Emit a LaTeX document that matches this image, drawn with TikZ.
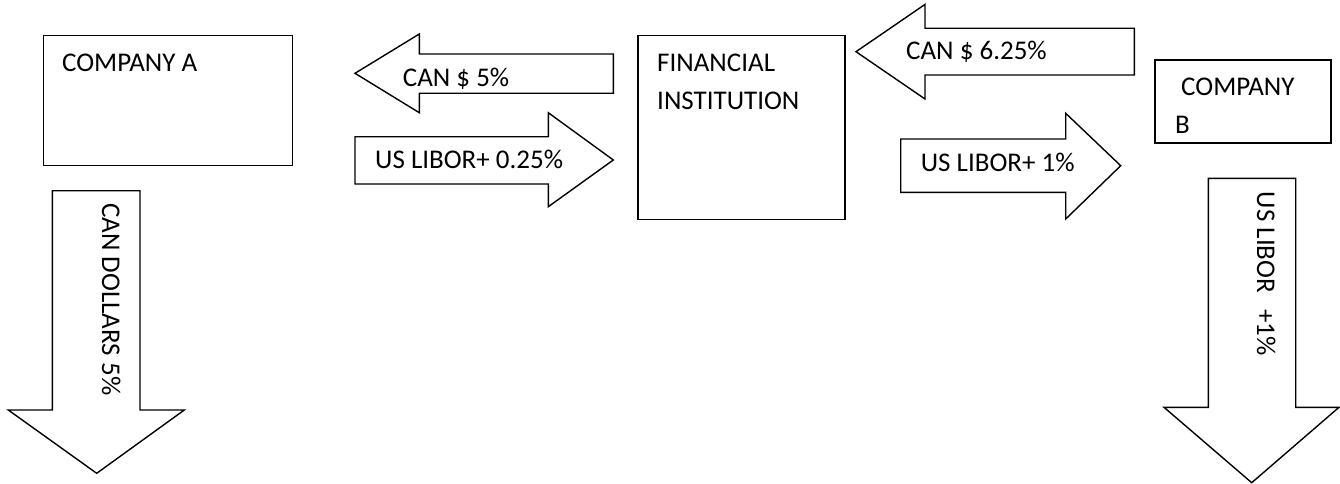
\documentclass[tikz,border=0pt]{standalone}
\usepackage{fontspec}
\setmainfont{Carlito}
\begin{document}
\begin{tikzpicture}[x=1pt,y=-1pt,
  box/.style={draw=black,line width=1.4pt,fill=white,inner sep=0pt,anchor=north west},
  blockarrow/.style={draw=black,line width=1.4pt,fill=white,line join=miter},
  lbl/.style={inner sep=0pt,anchor=base west,font=\fontsize{27}{32}\selectfont},
  vlbl/.style={inner sep=0pt,anchor=base west,rotate=-90,font=\fontsize{27}{32}\selectfont}]
\useasboundingbox (0,0) rectangle (1340,484);

% boxes
\node[box,minimum width=249pt,minimum height=130pt] (compA) at (43,35) {};
\node[box,minimum width=207pt,minimum height=184pt] (fin) at (637.3,34.7) {};
\node[box,minimum width=176pt,minimum height=83pt] (compB) at (1154.3,59.3) {};

\node[lbl] (tA) at (62,71.5) {COMPANY A};
\node[lbl] (tF1) at (657,71.7) {FINANCIAL};
\node[lbl] (tF2) at (657,110) {INSTITUTION};
\node[lbl] (tB1) at (1181,96) {COMPANY};
\node[lbl] (tB2) at (1175,133.3) {B};

% CAN $ 5% (left)
\draw[blockarrow] (355,73.3) -- (419.3,34) -- (419.3,54) -- (613.3,54) -- (613.3,93.3) -- (419.3,93.3) -- (419.3,112.7) -- cycle;
\node[lbl] (t1) at (402.7,86.7) {CAN \$ 5\%};

% US LIBOR+ 0.25% (right)
\draw[blockarrow] (355,136.7) -- (548.3,136.7) -- (548.3,112.7) -- (613.3,160) -- (548.3,206.7) -- (548.3,184) -- (355,184) -- cycle;
\node[lbl] (t2) at (375,168.3) {US LIBOR+ 0.25\%};

% CAN $ 6.25% (left)
\draw[blockarrow] (856,51.7) -- (925,4.4) -- (925,28.3) -- (1134.3,28.3) -- (1134.3,75) -- (925,75) -- (925,99) -- cycle;
\node[lbl] (t3) at (906,60) {CAN \$ 6.25\%};

% US LIBOR+ 1% (right)
\draw[blockarrow] (900.7,139) -- (1065.7,139) -- (1065.7,113.3) -- (1120.7,165.7) -- (1065.7,219) -- (1065.7,192.3) -- (900.7,192.3) -- cycle;
\node[lbl] (t4) at (920.7,171.7) {US LIBOR+ 1\%};

% CAN DOLLARS 5% (down)
\draw[blockarrow] (52.3,190.7) -- (140,190.7) -- (140,410) -- (184.3,410) -- (96.7,473.3) -- (8.3,410) -- (52.3,410) -- cycle;
\node[vlbl] (t5) at (102,203) {CAN DOLLARS 5\%};

% US LIBOR +1% (down)
\draw[blockarrow] (1208.3,178.3) -- (1295.7,178.3) -- (1295.7,407.3) -- (1339,407.3) -- (1251.7,482.7) -- (1164,407.3) -- (1208.3,407.3) -- cycle;
\node[vlbl] (t6) at (1257,191.7) {US LIBOR\hspace{0.6em}+1\%};
\end{tikzpicture}
\end{document}
